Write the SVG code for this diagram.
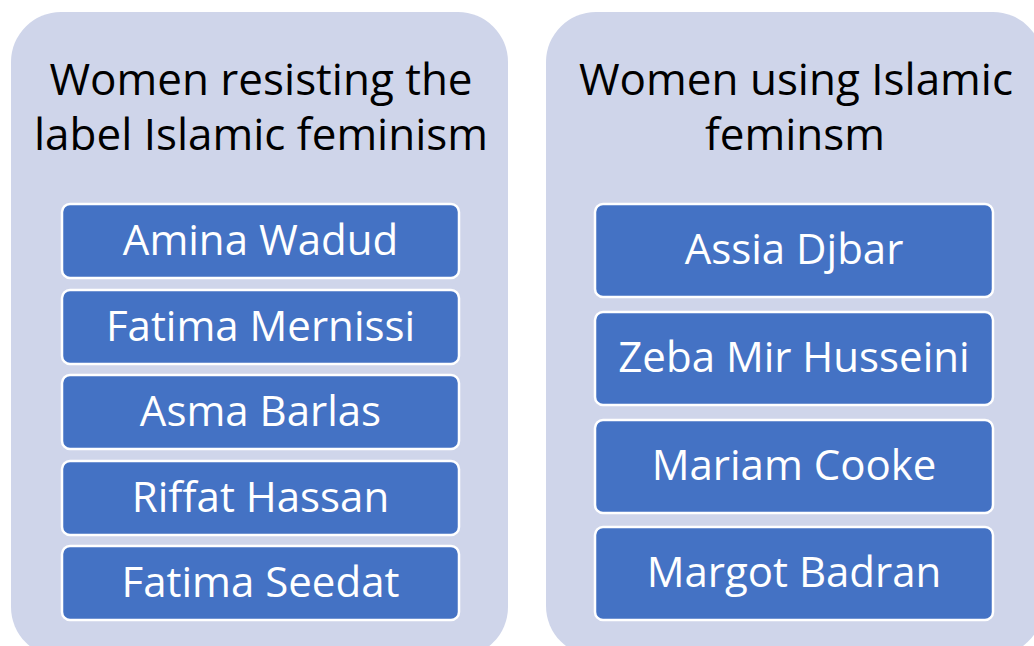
<svg xmlns="http://www.w3.org/2000/svg" width="1034" height="646" viewBox="0 0 1034 646">
  <style>
    .panel { fill: #CFD5EA; }
    .title { font-family: "Open Sans", "Liberation Sans", sans-serif; font-size: 44px; fill: #000000; text-anchor: middle; }
    .box { fill: #4472C4; stroke: #FFFFFF; stroke-width: 2.5; }
    .name { font-family: "Open Sans", "Liberation Sans", sans-serif; font-size: 42px; fill: #FFFFFF; text-anchor: middle; }
  </style>
  <rect width="1034" height="646" fill="#FFFFFF"/>

  <!-- Left column -->
  <g id="panel-resisting">
    <rect class="panel" x="11" y="12" width="497" height="645" rx="50" ry="50"/>
    <text class="title" x="261" y="95">Women resisting the</text>
    <text class="title" x="261" y="150">label Islamic feminism</text>
  </g>
  <g id="amina-wadud">
    <rect class="box" x="62" y="204" width="397" height="74" rx="8"/>
    <text class="name" x="260.5" y="255">Amina Wadud</text>
  </g>
  <g id="fatima-mernissi">
    <rect class="box" x="62" y="290" width="397" height="74" rx="8"/>
    <text class="name" x="260.5" y="341">Fatima Mernissi</text>
  </g>
  <g id="asma-barlas">
    <rect class="box" x="62" y="375" width="397" height="74" rx="8"/>
    <text class="name" x="260.5" y="426">Asma Barlas</text>
  </g>
  <g id="riffat-hassan">
    <rect class="box" x="62" y="461" width="397" height="74" rx="8"/>
    <text class="name" x="260.5" y="512">Riffat Hassan</text>
  </g>
  <g id="fatima-seedat">
    <rect class="box" x="62" y="546" width="397" height="74" rx="8"/>
    <text class="name" x="260.5" y="597">Fatima Seedat</text>
  </g>

  <!-- Right column -->
  <g id="panel-using">
    <rect class="panel" x="546" y="12" width="497" height="644" rx="50" ry="50"/>
    <text class="title" x="796" y="95">Women using Islamic</text>
    <text class="title" x="795" y="150">feminsm</text>
  </g>
  <g id="assia-djbar">
    <rect class="box" x="595" y="204" width="398" height="93" rx="8"/>
    <text class="name" x="794" y="264">Assia Djbar</text>
  </g>
  <g id="zeba-mir-husseini">
    <rect class="box" x="595" y="312" width="398" height="93" rx="8"/>
    <text class="name" x="794" y="372">Zeba Mir Husseini</text>
  </g>
  <g id="mariam-cooke">
    <rect class="box" x="595" y="420" width="398" height="93" rx="8"/>
    <text class="name" x="794" y="480">Mariam Cooke</text>
  </g>
  <g id="margot-badran">
    <rect class="box" x="595" y="527" width="398" height="93" rx="8"/>
    <text class="name" x="794" y="587">Margot Badran</text>
  </g>

  <!-- No connectors between nodes -->
  <g id="connectors"/>
</svg>
